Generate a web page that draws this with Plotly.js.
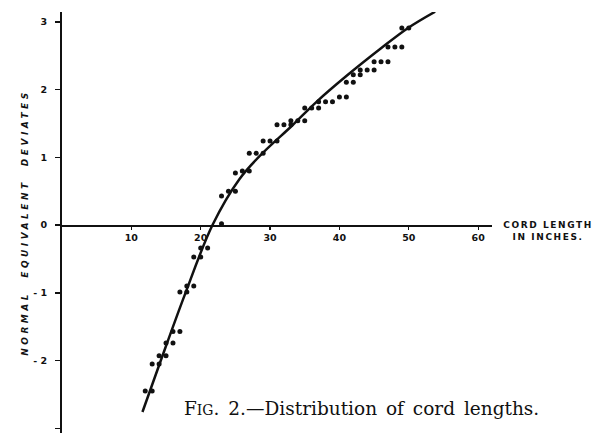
<!DOCTYPE html>
<html>
<head>
<meta charset="utf-8">
<script src="https://cdn.plot.ly/plotly-3.0.1.min.js"></script>
<style>
html,body{margin:0;padding:0;background:#fff;}
#chart{width:595px;height:433px;}
</style>
</head>
<body>
<div id="chart"></div>
<script>
// Observed points: cord length (inches) and normal equivalent deviate
const cordLength = [12,13, 13,14, 14,15, 15,16, 16,17, 17,18, 18,19, 19,20, 20,21,
  23, 23, 24,25, 25, 26,27, 27,28,29, 29,30,31, 31,32,33, 33,34,35, 35,36,37, 37,38,39,
  40,41, 41,42, 42,43, 43,44,45, 45,46,47, 47,48,49, 49,50];
const deviate = [-2.45,-2.45, -2.05,-2.05, -1.93,-1.93, -1.74,-1.74, -1.57,-1.57,
  -0.99,-0.99, -0.90,-0.90, -0.47,-0.47, -0.34,-0.34,
  0.02, 0.43, 0.50,0.50, 0.77, 0.80,0.80, 1.06,1.06,1.06, 1.24,1.24,1.24,
  1.48,1.48,1.48, 1.54,1.54,1.54, 1.73,1.73,1.73, 1.82,1.82,1.82,
  1.89,1.89, 2.11,2.11, 2.22,2.22, 2.29,2.29,2.29, 2.41,2.41,2.41,
  2.63,2.63,2.63, 2.91,2.91];

// Fitted curve
const curveX = [11.6, 14.0, 17.7, 21.7, 25.6, 28.9, 33.2, 36.7, 41.0, 46.0, 49.9, 53.8];
const curveY = [-2.76, -2.07, -1.03, 0.0, 0.68, 1.06, 1.47, 1.82, 2.20, 2.61, 2.91, 3.15];

const xTicks = [10, 20, 30, 40, 50, 60];
const yTicks = [-3, -2, -1, 0, 1, 2, 3];
const yTickText = ['- 3', '- 2', '- 1', '0', '1', '2', '3'];

const tickFont = {family: 'DejaVu Sans', size: 9.5, color: '#111', weight: 'bold'};

const data = [
  {x: curveX, y: curveY, mode: 'lines', line: {color: '#111', width: 2.5, shape: 'spline', smoothing: 1}, hoverinfo: 'skip'},
  {x: cordLength, y: deviate, mode: 'markers', marker: {color: '#111', size: 5}}
];

const layout = {
  width: 595, height: 433,
  margin: {l: 62, r: 103, t: 12, b: 0},
  paper_bgcolor: '#fff', plot_bgcolor: '#fff',
  showlegend: false,
  xaxis: {
    range: [0, 62], anchor: 'free', position: 0.494,
    showline: true, linecolor: '#111', linewidth: 1.5,
    ticks: 'outside', ticklen: 3, tickwidth: 1.2, tickcolor: '#111',
    tickvals: xTicks, tickfont: tickFont,
    showgrid: false, zeroline: false
  },
  yaxis: {
    range: [-3.07, 3.146],
    showline: true, linecolor: '#111', linewidth: 2,
    ticks: 'outside', ticklen: 5, tickwidth: 1.5, tickcolor: '#111',
    ticklabelstandoff: 6,
    tickvals: yTicks, ticktext: yTickText, tickfont: tickFont,
    showgrid: false, zeroline: false
  },
  annotations: [
    {xref: 'paper', yref: 'paper', x: -0.104, y: 0.50, textangle: -90,
     text: 'NORMAL  EQUIVALENT  DEVIATES',
     showarrow: false, font: {family: 'DejaVu Sans', size: 9, color: '#111', style: 'italic', weight: 'bold'}},
    {xref: 'paper', yref: 'y', x: (510 - 62) / 430, y: 0, xanchor: 'left', yanchor: 'top', yshift: 7, align: 'center',
     text: 'CORD LENGTH<br>IN INCHES.',
     showarrow: false, font: {family: 'DejaVu Sans', size: 9, color: '#111', weight: 'bold'}},
    {xref: 'paper', yref: 'paper', x: (188 - 62) / 430, y: (433 - 408) / 421, xanchor: 'left', yanchor: 'middle',
     text: 'F<span style="font-size:14px">IG</span>. 2.—Distribution of cord lengths.',
     showarrow: false, font: {family: 'DejaVu Serif', size: 18.5, color: '#111'}}
  ]
};

Plotly.newPlot('chart', data, layout, {displayModeBar: false, staticPlot: true}).then(function (gd) {
  const anns = gd.querySelectorAll('.annotation-text');
  if (anns[0]) anns[0].style.letterSpacing = '3.5px';
  if (anns[1]) anns[1].style.letterSpacing = '1.6px';
  if (anns[2]) anns[2].style.wordSpacing = '3px';
});
</script>
</body>
</html>
